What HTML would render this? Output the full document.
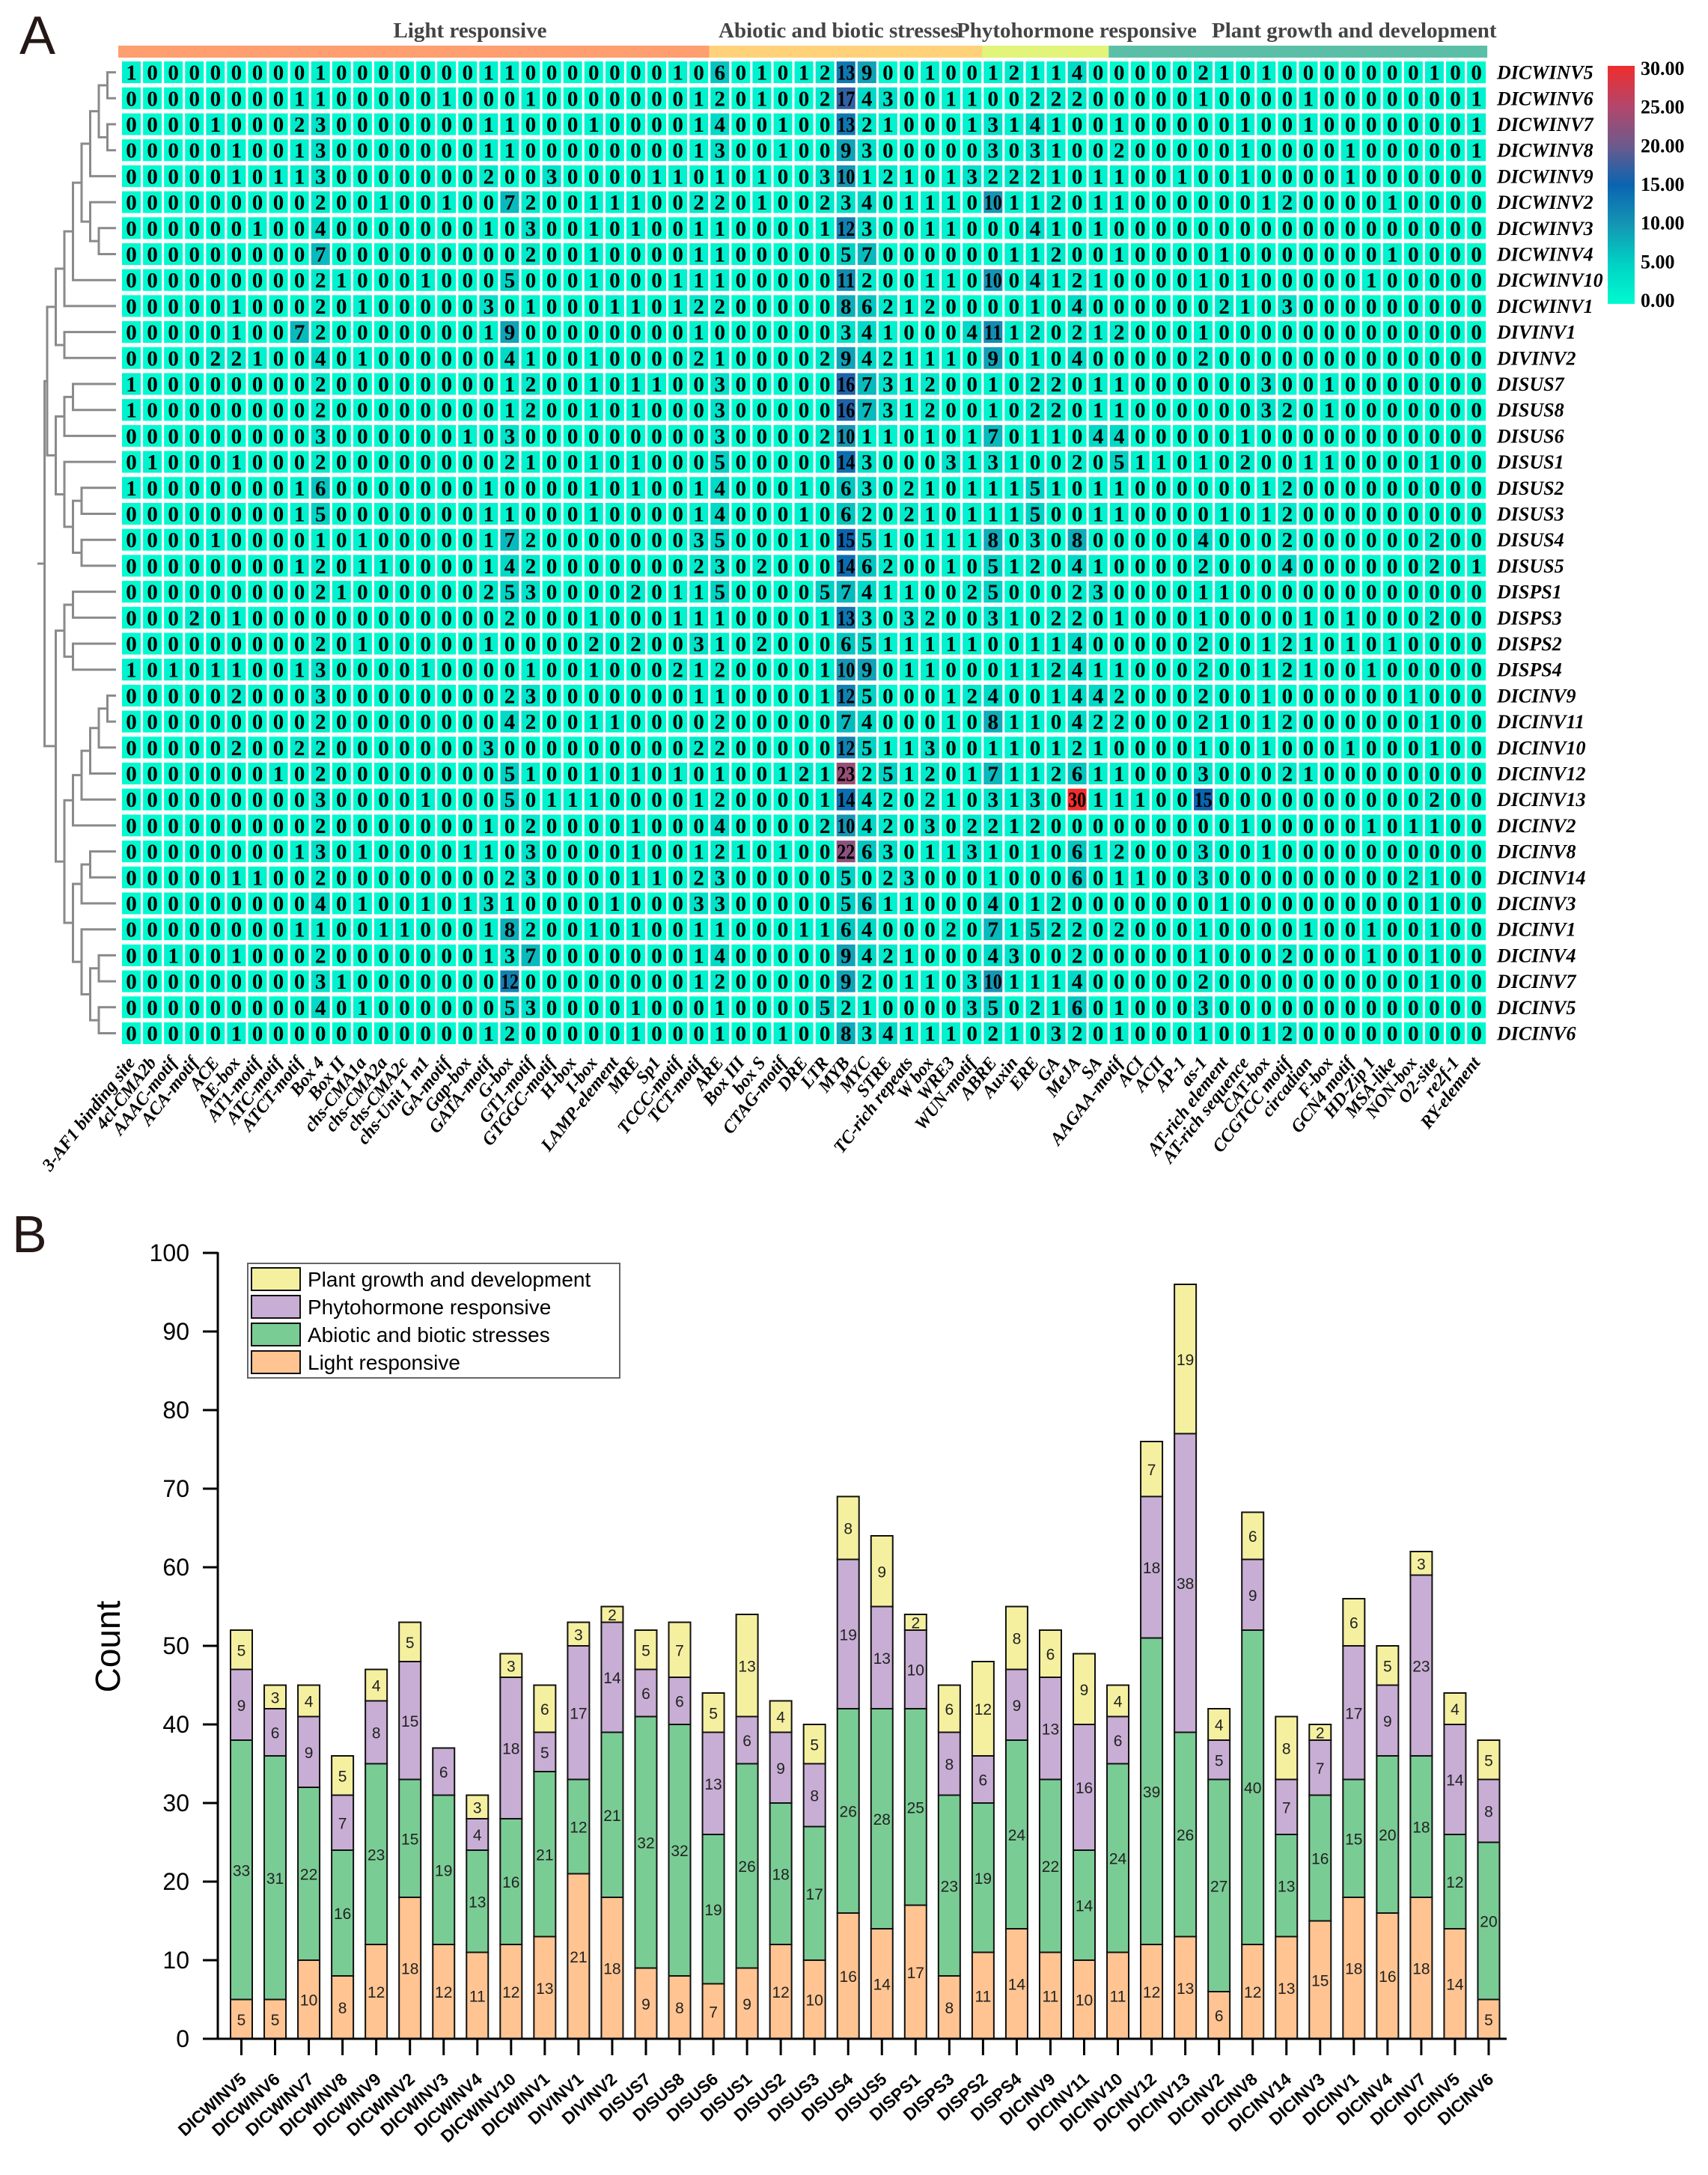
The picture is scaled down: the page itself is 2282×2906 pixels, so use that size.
<!DOCTYPE html>
<html><head><meta charset="utf-8"><style>
html,body{margin:0;padding:0;background:#fff;}
svg{display:block;}
</style></head><body>
<svg id="fig" xmlns="http://www.w3.org/2000/svg" width="2282" height="2906" viewBox="0 0 2282 2906">
<defs>
<linearGradient id="cbar" x1="0" y1="1" x2="0" y2="0">
<stop offset="0" stop-color="#00FAD0"/><stop offset="0.1667" stop-color="#00D2C4"/><stop offset="0.3333" stop-color="#1496B4"/><stop offset="0.5" stop-color="#0A64B0"/><stop offset="0.6667" stop-color="#6E5A8C"/><stop offset="0.8333" stop-color="#B4466A"/><stop offset="1" stop-color="#F02D2D"/>
</linearGradient>
</defs>
<text x="26" y="72" font-family="Liberation Sans, sans-serif" font-size="72" fill="#231815">A</text>
<text x="16" y="1673" font-family="Liberation Sans, sans-serif" font-size="70" fill="#231815">B</text>
</svg>
<script>
// ---------- Heatmap data ----------
const rowNames = ["DICWINV5","DICWINV6","DICWINV7","DICWINV8","DICWINV9","DICWINV2","DICWINV3","DICWINV4","DICWINV10","DICWINV1","DIVINV1","DIVINV2","DISUS7","DISUS8","DISUS6","DISUS1","DISUS2","DISUS3","DISUS4","DISUS5","DISPS1","DISPS3","DISPS2","DISPS4","DICINV9","DICINV11","DICINV10","DICINV12","DICINV13","DICINV2","DICINV8","DICINV14","DICINV3","DICINV1","DICINV4","DICINV7","DICINV5","DICINV6"];
const lightCols = ["3-AF1 binding site","4cl-CMA2b","AAAC-motif","ACA-motif","ACE","AE-box","AT1-motif","ATC-motif","ATCT-motif","Box 4","Box II","chs-CMA1a","chs-CMA2a","chs-CMA2c","chs-Unit 1 m1","GA-motif","Gap-box","GATA-motif","G-box","GT1-motif","GTGGC-motif","H-box","I-box","LAMP-element","MRE","Sp1","TCCC-motif","TCT-motif"];
const abioticCols = ["ARE","Box III","box S","CTAG-motif","DRE","LTR","MYB","MYC","STRE","TC-rich repeats","W box","WRE3","WUN-motif"];
const phytoCols = ["ABRE","Auxin","ERE","GA","MeJA","SA"];
const plantCols = ["AAGAA-motif","ACI","ACII","AP-1","as-1","AT-rich element","AT-rich sequence","CAT-box","CCGTCC motif","circadian","F-box","GCN4 motif","HD-Zip 1","MSA-like","NON-box","O2-site","re2f-1","RY-element"];
const groupTitles = ["Light responsive","Abiotic and biotic stresses","Phytohormone responsive","Plant growth and development"];
const lightVals = [
[1,0,0,0,0,0,0,0,0,1,0,0,0,0,0,0,0,1,1,0,0,0,0,0,0,0,1,0],
[0,0,0,0,0,0,0,0,1,1,0,0,0,0,0,1,0,0,0,1,0,0,0,0,0,0,0,1],
[0,0,0,0,1,0,0,0,2,3,0,0,0,0,0,0,0,1,1,0,0,0,1,0,0,0,0,1],
[0,0,0,0,0,1,0,0,1,3,0,0,0,0,0,0,0,1,1,0,0,0,0,0,0,0,0,1],
[0,0,0,0,0,1,0,1,1,3,0,0,0,0,0,0,0,2,0,0,3,0,0,0,0,1,1,0],
[0,0,0,0,0,0,0,0,0,2,0,0,1,0,0,1,0,0,7,2,0,0,1,1,1,0,0,2],
[0,0,0,0,0,0,1,0,0,4,0,0,0,0,0,0,0,1,0,3,0,0,1,0,1,0,0,1],
[0,0,0,0,0,0,0,0,0,7,0,0,0,0,0,0,0,0,0,2,0,0,1,0,0,0,0,1],
[0,0,0,0,0,0,0,0,0,2,1,0,0,0,1,0,0,0,5,0,0,0,1,0,0,0,1,1],
[0,0,0,0,0,1,0,0,0,2,0,1,0,0,0,0,0,3,0,1,0,0,0,1,1,0,1,2],
[0,0,0,0,0,1,0,0,7,2,0,0,0,0,0,0,0,1,9,0,0,0,0,0,0,0,0,1],
[0,0,0,0,2,2,1,0,0,4,0,1,0,0,0,0,0,0,4,1,0,0,1,0,0,0,0,2],
[1,0,0,0,0,0,0,0,0,2,0,0,0,0,0,0,0,0,1,2,0,0,1,0,1,1,0,0],
[1,0,0,0,0,0,0,0,0,2,0,0,0,0,0,0,0,0,1,2,0,0,1,0,1,0,0,0],
[0,0,0,0,0,0,0,0,0,3,0,0,0,0,0,0,1,0,3,0,0,0,0,0,0,0,0,0],
[0,1,0,0,0,1,0,0,0,2,0,0,0,0,0,0,0,0,2,1,0,0,1,0,1,0,0,0],
[1,0,0,0,0,0,0,0,1,6,0,0,0,0,0,0,0,1,0,0,0,0,1,0,1,0,0,1],
[0,0,0,0,0,0,0,0,1,5,0,0,0,0,0,0,0,1,1,0,0,0,1,0,0,0,0,1],
[0,0,0,0,1,0,0,0,0,1,0,1,0,0,0,0,0,1,7,2,0,0,0,0,0,0,0,3],
[0,0,0,0,0,0,0,0,1,2,0,1,1,0,0,0,0,1,4,2,0,0,0,0,0,0,0,2],
[0,0,0,0,0,0,0,0,0,2,1,0,0,0,0,0,0,2,5,3,0,0,0,0,2,0,1,1],
[0,0,0,2,0,1,0,0,0,0,0,0,0,0,0,0,0,0,2,0,0,0,1,0,0,0,1,1],
[0,0,0,0,0,0,0,0,0,2,0,1,0,0,0,0,0,1,0,0,0,0,2,0,2,0,0,3],
[1,0,1,0,1,1,0,0,1,3,0,0,0,0,1,0,0,0,0,1,0,0,1,0,0,0,2,1],
[0,0,0,0,0,2,0,0,0,3,0,0,0,0,0,0,0,0,2,3,0,0,0,0,0,0,0,1],
[0,0,0,0,0,0,0,0,0,2,0,0,0,0,0,0,0,0,4,2,0,0,1,1,0,0,0,0],
[0,0,0,0,0,2,0,0,2,2,0,0,0,0,0,0,0,3,0,0,0,0,0,0,0,0,0,2],
[0,0,0,0,0,0,0,1,0,2,0,0,0,0,0,0,0,0,5,1,0,0,1,0,1,0,1,0],
[0,0,0,0,0,0,0,0,0,3,0,0,0,0,1,0,0,0,5,0,1,1,1,0,0,0,0,1],
[0,0,0,0,0,0,0,0,0,2,0,0,0,0,0,0,0,1,0,2,0,0,0,0,1,0,0,0],
[0,0,0,0,0,0,0,0,1,3,0,1,0,0,0,0,1,1,0,3,0,0,0,0,1,0,0,1],
[0,0,0,0,0,1,1,0,0,2,0,0,0,0,0,0,0,0,2,3,0,0,0,0,1,1,0,2],
[0,0,0,0,0,0,0,0,0,4,0,1,0,0,1,0,1,3,1,0,0,0,0,1,0,0,0,3],
[0,0,0,0,0,0,0,0,1,1,0,0,1,1,0,0,0,1,8,2,0,0,1,0,1,0,0,1],
[0,0,1,0,0,1,0,0,0,2,0,0,0,0,0,0,0,1,3,7,0,0,0,0,0,0,0,1],
[0,0,0,0,0,0,0,0,0,3,1,0,0,0,0,0,0,0,12,0,0,0,0,0,0,0,0,1],
[0,0,0,0,0,0,0,0,0,4,0,1,0,0,0,0,0,0,5,3,0,0,0,0,1,0,0,0],
[0,0,0,0,0,1,0,0,0,0,0,0,0,0,0,0,0,1,2,0,0,0,0,0,1,0,0,0]];
const abioticVals = [
[6,0,1,0,1,2,13,9,0,0,1,0,0],[2,0,1,0,0,2,17,4,3,0,0,1,1],[4,0,0,1,0,0,13,2,1,0,0,0,1],[3,0,0,1,0,0,9,3,0,0,0,0,0],
[1,0,1,0,0,3,10,1,2,1,0,1,3],[2,0,1,0,0,2,3,4,0,1,1,1,0],[1,0,0,0,0,1,12,3,0,0,1,1,0],[1,0,0,0,0,0,5,7,0,0,0,0,0],
[1,0,0,0,0,0,11,2,0,0,1,1,0],[2,0,0,0,0,0,8,6,2,1,2,0,0],[0,0,0,0,0,0,3,4,1,0,0,0,4],[1,0,0,0,0,2,9,4,2,1,1,1,0],
[3,0,0,0,0,0,16,7,3,1,2,0,0],[3,0,0,0,0,0,16,7,3,1,2,0,0],[3,0,0,0,0,2,10,1,1,0,1,0,1],[5,0,0,0,0,0,14,3,0,0,0,3,1],
[4,0,0,0,1,0,6,3,0,2,1,0,1],[4,0,0,0,1,0,6,2,0,2,1,0,1],[5,0,0,0,1,0,15,5,1,0,1,1,1],[3,0,2,0,0,0,14,6,2,0,0,1,0],
[5,0,0,0,0,5,7,4,1,1,0,0,2],[1,0,0,0,0,1,13,3,0,3,2,0,0],[1,0,2,0,0,0,6,5,1,1,1,1,1],[2,0,0,0,0,1,10,9,0,1,1,0,0],
[1,0,0,0,0,1,12,5,0,0,0,1,2],[2,0,0,0,0,0,7,4,0,0,0,1,0],[2,0,0,0,0,0,12,5,1,1,3,0,0],[1,0,0,1,2,1,23,2,5,1,2,0,1],
[2,0,0,0,0,1,14,4,2,0,2,1,0],[4,0,0,0,0,2,10,4,2,0,3,0,2],[2,1,0,1,0,0,22,6,3,0,1,1,3],[3,0,0,0,0,0,5,0,2,3,0,0,0],
[3,0,0,0,0,0,5,6,1,1,0,0,0],[1,0,0,0,1,1,6,4,0,0,0,2,0],[4,0,0,0,0,0,9,4,2,1,0,0,0],[2,0,0,0,0,0,9,2,0,1,1,0,3],
[1,0,0,0,0,5,2,1,0,0,0,0,3],[1,0,0,1,0,0,8,3,4,1,1,1,0]];
const phytoVals = [
[1,2,1,1,4,0],[0,0,2,2,2,0],[3,1,4,1,0,0],[3,0,3,1,0,0],[2,2,2,1,0,1],[10,1,1,2,0,1],[0,0,4,1,0,1],[0,1,1,2,0,0],
[10,0,4,1,2,1],[0,0,1,0,4,0],[11,1,2,0,2,1],[9,0,1,0,4,0],[1,0,2,2,0,1],[1,0,2,2,0,1],[7,0,1,1,0,4],[3,1,0,0,2,0],
[1,1,5,1,0,1],[1,1,5,0,0,1],[8,0,3,0,8,0],[5,1,2,0,4,1],[5,0,0,0,2,3],[3,1,0,2,2,0],[0,0,1,1,4,0],[0,1,1,2,4,1],
[4,0,0,1,4,4],[8,1,1,0,4,2],[1,1,0,1,2,1],[7,1,1,2,6,1],[3,1,3,0,30,1],[2,1,2,0,0,0],[1,0,1,0,6,1],[1,0,0,0,6,0],
[4,0,1,2,0,0],[7,1,5,2,2,0],[4,3,0,0,2,0],[10,1,1,1,4,0],[5,0,2,1,6,0],[2,1,0,3,2,0]];
const plantVals = [
[0,0,0,0,2,1,0,1,0,0,0,0,0,0,0,1,0,0],[0,0,0,0,1,0,0,0,0,1,0,0,0,0,0,0,0,1],[1,0,0,0,0,0,1,0,0,1,0,0,0,0,0,0,0,1],
[2,0,0,0,0,0,1,0,0,0,0,1,0,0,0,0,0,1],[1,0,0,1,0,0,1,0,0,0,0,1,0,0,0,0,0,0],[1,0,0,0,0,0,0,1,2,0,0,0,0,1,0,0,0,0],
[0,0,0,0,0,0,0,0,0,0,0,0,0,0,0,0,0,0],[1,0,0,0,0,1,0,0,0,0,0,0,0,1,0,0,0,0],[0,0,0,0,1,0,1,0,0,0,0,0,1,0,0,0,0,0],
[0,0,0,0,0,2,1,0,3,0,0,0,0,0,0,0,0,0],[2,0,0,0,1,0,0,0,0,0,0,0,0,0,0,0,0,0],[0,0,0,0,2,0,0,0,0,0,0,0,0,0,0,0,0,0],
[1,0,0,0,0,0,0,3,0,0,1,0,0,0,0,0,0,0],[1,0,0,0,0,0,0,3,2,0,1,0,0,0,0,0,0,0],[4,0,0,0,0,0,1,0,0,0,0,0,0,0,0,0,0,0],
[5,1,1,0,1,0,2,0,0,1,1,0,0,0,0,1,0,0],[1,0,0,0,0,0,0,1,2,0,0,0,0,0,0,0,0,0],[1,0,0,0,0,1,0,1,2,0,0,0,0,0,0,0,0,0],
[0,0,0,0,4,0,0,0,2,0,0,0,0,0,0,2,0,0],[0,0,0,0,2,0,0,0,4,0,0,0,0,0,0,2,0,1],[0,0,0,0,1,1,0,0,0,0,0,0,0,0,0,0,0,0],
[1,0,0,0,1,0,0,0,0,1,0,1,0,0,0,2,0,0],[0,0,0,0,2,0,0,1,2,1,0,1,0,1,0,0,0,0],[1,0,0,0,2,0,0,1,2,1,0,0,1,0,0,0,0,0],
[2,0,0,0,2,0,0,1,0,0,0,0,0,0,1,0,0,0],[2,0,0,0,2,1,0,1,2,0,0,0,0,0,0,1,0,0],[0,0,0,0,1,0,0,1,0,0,0,1,0,0,0,1,0,0],
[1,0,0,0,3,0,0,0,2,1,0,0,0,0,0,0,0,0],[1,1,0,0,15,0,0,0,0,0,0,0,0,0,0,2,0,0],[0,0,0,0,0,0,1,0,0,0,0,0,1,0,1,1,0,0],
[2,0,0,0,3,0,0,1,0,0,0,0,0,0,0,0,0,0],[1,1,0,0,3,0,0,0,0,0,0,0,0,0,2,1,0,0],[0,0,0,0,0,1,0,0,0,0,0,0,0,0,0,1,0,0],
[2,0,0,0,1,0,0,0,0,1,0,0,1,0,0,1,0,0],[0,0,0,0,1,0,0,0,2,0,0,0,1,0,0,1,0,0],[0,0,0,0,2,0,0,0,0,0,0,0,0,0,0,1,0,0],
[1,0,0,0,3,0,0,0,0,0,0,0,0,0,0,0,0,0],[1,0,0,0,1,0,0,1,2,0,0,0,0,0,0,0,0,0]];
const colorbarTicks = [0,5,10,15,20,25,30];
// dendrogram: [left, right, distance]; leaves are row indices
const dendroTree = [
 [[[[[[[[0,1,1],[2,3,1],2],4,3],[5,[6,7,2],3],4],8,5],9,6],[10,11,6],7],
  [[[12,13,5],14,6],[15,[[16,17,4],[18,19,4],5],6],7],8],
 [[[20,21,5],[22,23,5],6],
  [[[[[[24,25,1],26,2],27,3],28,4],29,5],[[[30,31,3],32,4],[33,[[34,35,2],[36,37,2],3],4],5],6],7],8.3];

// ---------- Bar chart data ----------
const barCategories = rowNames.slice();
const lightCounts  = [5,5,10,8,12,18,12,11,12,13,21,18,9,8,7,9,12,10,16,14,17,8,11,14,11,10,11,12,13,6,12,13,15,18,16,18,14,5];
const abioticCounts= [33,31,22,16,23,15,19,13,16,21,12,21,32,32,19,26,18,17,26,28,25,23,19,24,22,14,24,39,26,27,40,13,16,15,20,18,12,20];
const phytoCounts  = [9,6,9,7,8,15,6,4,18,5,17,14,6,6,13,6,9,8,19,13,10,8,6,9,13,16,6,18,38,5,9,7,7,17,9,23,14,8];
const plantCounts  = [5,3,4,5,4,5,0,3,3,6,3,2,5,7,5,13,4,5,8,9,2,6,12,8,6,9,4,7,19,4,6,8,2,6,5,3,4,5];
const yTicks = [0,10,20,30,40,50,60,70,80,90,100];
const seriesNames = ["Light responsive","Abiotic and biotic stresses","Phytohormone responsive","Plant growth and development"];
const seriesColors = ["#FFC491","#7ACC95","#C8AED4","#F5F0A0"];

// ---------- helpers ----------
const NS = "http://www.w3.org/2000/svg";
const svg = document.getElementById("fig");
function mk(tag, attrs, parent){
  const e = document.createElementNS(NS, tag);
  for (const k in attrs) e.setAttribute(k, attrs[k]);
  (parent||svg).appendChild(e);
  return e;
}
const SERIF = "Liberation Serif, serif";
const SANS = "Liberation Sans, sans-serif";

// ---------- Heatmap geometry ----------
const colX0 = 163, colPitch = 28.08, cellW = 25;
const rowY0 = 96.6, rowPitch = 34.7, cellH = 29;
const colX = c => colX0 + c*colPitch;
const rowY = r => rowY0 + r*rowPitch;
const allCols = lightCols.concat(abioticCols, phytoCols, plantCols);
const matrix = rowNames.map((n,i)=> lightVals[i].concat(abioticVals[i], phytoVals[i], plantVals[i]));
const stops = [[0,[0,250,208]],[5,[0,210,196]],[10,[20,150,180]],[15,[10,100,176]],[20,[110,90,140]],[25,[180,70,106]],[30,[240,45,45]]];
function heatColor(v){
  v = Math.max(0, Math.min(30, v));
  for (let i=0;i<stops.length-1;i++){
    const a=stops[i], b=stops[i+1];
    if (v<=b[0]){
      const t=(v-a[0])/(b[0]-a[0]);
      const c=a[1].map((x,j)=>Math.round(x+(b[1][j]-x)*t));
      return "rgb("+c.join(",")+")";
    }
  }
  return "rgb(240,45,45)";
}

// group header bars
const groupSizes = [lightCols.length, abioticCols.length, phytoCols.length, plantCols.length];
const groupColors = ["#FF9E6E","#FFD27A","#E2F47A","#5BBFA8"];
const groupTitleX = [628, 960, 1278, 1619];
const groupTitleAnchor = ["middle","start","start","start"];
let startCol = 0;
const gHead = mk("g", {});


groupSizes.forEach((sz, gi) => {
  const x1 = gi===0 ? colX(0)-5 : colX(startCol)-1.5;
  const x2 = gi===3 ? colX(startCol+sz-1)+cellW+2 : colX(startCol+sz)-1.5;
  const r = mk("rect", {x:x1, y:61, width:x2-x1, height:16, fill:groupColors[gi]}, gHead);
  
  
  const t = mk("text", {x:groupTitleX[gi], y:50, "text-anchor":groupTitleAnchor[gi], "font-family":SERIF, "font-weight":"bold", "font-size":29, fill:"#444"}, gHead);
  t.textContent = groupTitles[gi];
  
  
  startCol += sz;
});

// cells
const gCells = mk("g", {});


matrix.forEach((row, r) => {
  row.forEach((v, c) => {
    const cy = rowY(r);
    const rect = mk("rect", {x:colX(c), y:cy-cellH/2, width:cellW, height:cellH, fill:heatColor(v)}, gCells);
    
    
    const attrs = {x:colX(c)+cellW/2, y:cy+10, "text-anchor":"middle", "font-family":SERIF, "font-weight":"bold", "font-size":29, fill:"#000"};
    if (String(v).length>1){ attrs.textLength = 24; attrs.lengthAdjust = "spacingAndGlyphs"; }
    const t = mk("text", attrs, gCells);
    t.textContent = v;
    
    
  });
});

// row labels
rowNames.forEach((n, r) => {
  const t = mk("text", {x:2000, y:rowY(r)+9, "font-family":SERIF, "font-style":"italic", "font-weight":"bold", "font-size":26, fill:"#000"});
  t.textContent = n;
  
  
});

// column labels
allCols.forEach((n, c) => {
  const x = colX(c)+cellW/2+6, y = 1420;
  const t = mk("text", {x:x, y:y, "text-anchor":"end", transform:"rotate(-52 "+x+" "+y+")", "font-family":SERIF, "font-style":"italic", "font-weight":"bold", "font-size":24, fill:"#000"});
  t.textContent = n;
  
  
});

// colorbar
const cbTop = 88, cbH = 318;
const cb = mk("rect", {x:2148, y:cbTop, width:36, height:cbH, fill:"url(#cbar)"});


colorbarTicks.forEach(v => {
  const y = cbTop + 3 + (30-v)/30*(cbH-8);
  const t = mk("text", {x:2192, y:y+9, "font-family":SERIF, "font-weight":"bold", "font-size":26, fill:"#000"});
  t.textContent = v.toFixed(2);
  
  
});

// dendrogram
const leafX = 155, dendroScale = 11.5;
const dx = d => leafX - d*dendroScale;
const gDen = mk("g", {stroke:"#8a8a8a", "stroke-width":3, fill:"none"});


function drawNode(node){
  if (typeof node === "number") return {x:leafX, y:rowY(node)};
  const a = drawNode(node[0]), b = drawNode(node[1]);
  const x = dx(node[2]);
  const p = mk("path", {d:"M"+a.x+" "+a.y+"H"+x+"V"+b.y+"H"+b.x}, gDen);
  
  
  return {x:x, y:(a.y+b.y)/2};
}
const rootPt = drawNode(dendroTree);
const stub = mk("path", {d:"M"+rootPt.x+" "+rootPt.y+"H50"}, gDen);



// ---------- Bar chart ----------
const yBase = 2724, yPer = 10.5;
const yScale = v => yBase - v*yPer;
const xBar0 = 322.5, xBarPitch = 45.04, barW = 29;
const xScale = i => xBar0 + i*xBarPitch;
const axisX = 291;

const gBars = mk("g", {});


const seriesData = [lightCounts, abioticCounts, phytoCounts, plantCounts];
barCategories.forEach((cat, i) => {
  let acc = 0;
  seriesData.forEach((arr, s) => {
    const v = arr[i];
    if (v <= 0) return;
    const y1 = yScale(acc+v), y0 = yScale(acc);
    const r = mk("rect", {x:xScale(i)-barW/2, y:y1, width:barW, height:y0-y1, fill:seriesColors[s], stroke:"#111", "stroke-width":2}, gBars);
    
    
    const t = mk("text", {x:xScale(i), y:(y1+y0)/2+8, "text-anchor":"middle", "font-family":SANS, "font-size":21, fill:"#222"}, gBars);
    t.textContent = v;
    
    
    acc += v;
  });
  const tk = mk("line", {x1:xScale(i), x2:xScale(i), y1:yBase, y2:yBase+22, stroke:"#000", "stroke-width":3});
  
  
  const lx = xScale(i)+8, ly = yBase+56;
  const lt = mk("text", {x:lx, y:ly, "text-anchor":"end", transform:"rotate(-42 "+lx+" "+ly+")", "font-family":SANS, "font-weight":"bold", "font-size":23, fill:"#000"});
  lt.textContent = cat;
  
  
});

// axes
const yAxis = mk("line", {x1:axisX, x2:axisX, y1:yScale(100)-1, y2:yBase+1, stroke:"#000", "stroke-width":3});


const xAxis = mk("line", {x1:271, x2:2013, y1:yBase, y2:yBase, stroke:"#000", "stroke-width":3});


yTicks.forEach(v => {
  const y = yScale(v);
  const l = mk("line", {x1:271, x2:axisX, y1:y, y2:y, stroke:"#000", "stroke-width":3});
  
  
  const t = mk("text", {x:253, y:y+11, "text-anchor":"end", "font-family":SANS, "font-size":32, fill:"#000"});
  t.textContent = v;
  
  
});
const yTitle = mk("text", {x:160, y:2200, "text-anchor":"middle", transform:"rotate(-90 160 2200)", "font-family":SANS, "font-size":46, fill:"#000"});
yTitle.textContent = "Count";



// legend
const gLeg = mk("g", {});


const legBox = mk("rect", {x:331, y:1688, width:497, height:153, fill:"#fff", stroke:"#666", "stroke-width":2}, gLeg);


const legOrder = [3,2,1,0];
legOrder.forEach((s, k) => {
  const cy = 1709 + k*37;
  const sw = mk("rect", {x:336, y:cy-15, width:65, height:30, fill:seriesColors[s], stroke:"#111", "stroke-width":2}, gLeg);
  
  
  const t = mk("text", {x:411, y:cy+10, "font-family":SANS, "font-size":28, fill:"#000"}, gLeg);
  t.textContent = seriesNames[s];
  
  
});
</script>
</body></html>
